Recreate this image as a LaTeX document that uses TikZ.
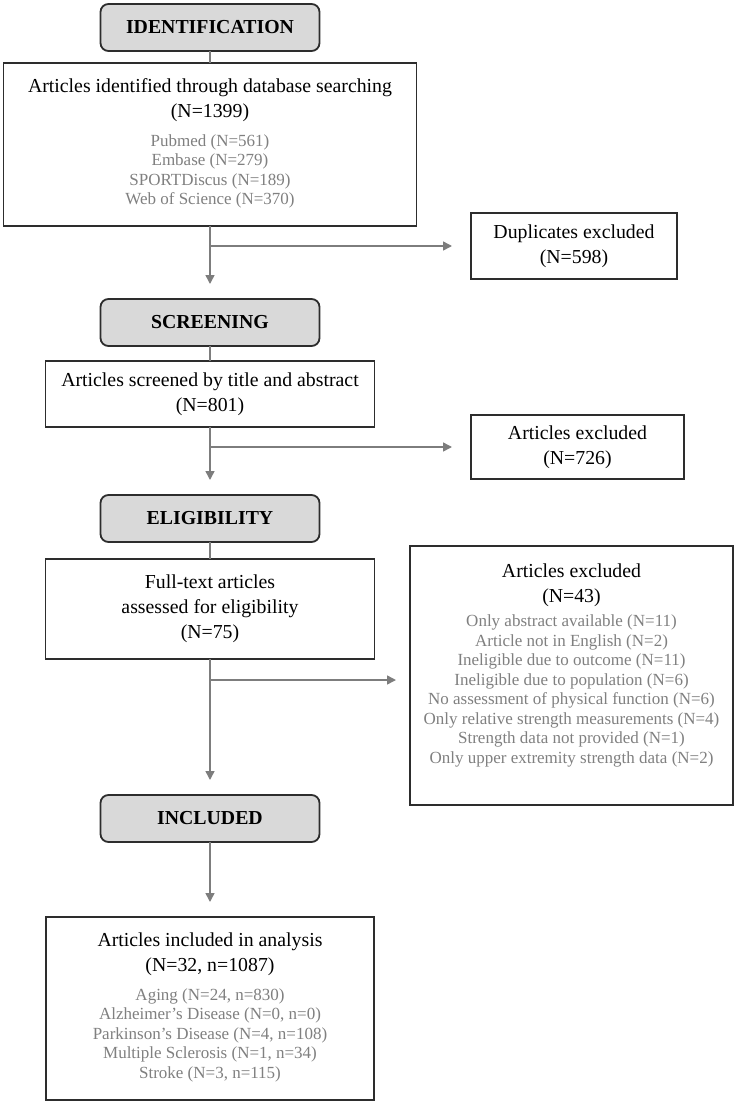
\documentclass[tikz,border=0pt]{standalone}
\usepackage{fontspec}
\setmainfont{Liberation Serif}
\usepackage{xcolor}
\usetikzlibrary{arrows.meta,positioning,calc}
\definecolor{prdark}{RGB}{45,45,45}
\definecolor{prgray}{RGB}{128,128,128}
\definecolor{prline}{RGB}{125,125,125}
\definecolor{prfill}{RGB}{217,217,217}
\newcommand{\sublist}[2][0bp]{{\color{prgray}\fontsize{8.5bp}{9.75bp}\selectfont\begin{tabular}[t]{@{}c@{}}#2\\[#1]\end{tabular}}}

\begin{document}
\begin{tikzpicture}[
			node distance=6bp,
			stage/.style={rectangle, draw=prdark, line width=0.9bp, outer sep=0pt, rounded corners=4bp, fill=prfill, minimum width=109.5bp, minimum height=23.5bp, font=\fontsize{9.9bp}{12.5bp}\selectfont\bfseries},
			record/.style={rectangle, draw=prdark, line width=0.9bp, outer sep=0pt, fill=white, align=center, inner sep=2bp, font=\fontsize{9.9bp}{12.5bp}\selectfont},
			link/.style={draw=prline, line width=0.75bp},
			arrow/.style={link, -{Triangle[length=4.5bp, width=4.5bp]}, shorten >=7.5bp}
		]
			\path[use as bounding box] (0,0) rectangle (369.5bp,-551.5bp);
			\node[stage] (ident) at (105bp,-13.75bp) {IDENTIFICATION};
			\node[record, minimum width=206.5bp, minimum height=81.5bp, below=6bp of ident] (found) {Articles identified through database searching\\(N=1399)\\[2bp]\sublist{Pubmed (N=561)\\Embase (N=279)\\SPORTDiscus (N=189)\\Web of Science (N=370)}};
			\node[stage, below=36.5bp of found] (scr) {SCREENING};
			\node[record, minimum width=164.5bp, minimum height=33bp, below=7.5bp of scr] (scrbox) {Articles screened by title and abstract\\(N=801)};
			\node[stage, below=34bp of scrbox] (elig) {ELIGIBILITY};
			\node[record, minimum width=164.5bp, minimum height=50bp, below=8.5bp of elig] (eligbox) {Full-text articles\\assessed for eligibility\\(N=75)};
			\node[stage, below=68bp of eligbox] (incl) {INCLUDED};
			\node[record, minimum width=164bp, minimum height=91.5bp, below=37.5bp of incl] (final) {Articles included in analysis\\(N=32, n=1087)\\[2bp]\sublist{Aging (N=24, n=830)\\Alzheimer's Disease (N=0, n=0)\\Parkinson's Disease (N=4, n=108)\\Multiple Sclerosis (N=1, n=34)\\Stroke (N=3, n=115)}};
			
			\coordinate[below=10bp of found.south] (b1);
			\coordinate[below=10bp of scrbox.south] (b2);
			\coordinate[below=10.5bp of eligbox.south] (b3);
			
			\node[record, minimum width=103bp, minimum height=33bp, anchor=west] (dup) at ([xshift=130.5bp]b1) {Duplicates excluded\\(N=598)};
			\node[record, minimum width=106.5bp, minimum height=32bp, anchor=west] (exc1) at ([xshift=130.5bp]b2) {Articles excluded\\(N=726)};
			\node[record, minimum width=161.5bp, minimum height=129.5bp, anchor=north west] (exc2) at ([xshift=17.75bp, yshift=6.5bp]eligbox.north east) {Articles excluded\\(N=43)\\[-0.5bp]\sublist[9bp]{Only abstract available (N=11)\\Article not in English (N=2)\\Ineligible due to outcome (N=11)\\Ineligible due to population (N=6)\\No assessment of physical function (N=6)\\Only relative strength measurements (N=4)\\Strength data not provided (N=1)\\Only upper extremity strength data (N=2)}};
			
			\draw[link] (ident) -- (found);
			\draw[arrow] (found) -- (scr);
			\draw[arrow, shorten >=9.5bp] (b1) -- (dup);
			\draw[link] (scr) -- (scrbox);
			\draw[arrow] (scrbox) -- (elig);
			\draw[arrow, shorten >=9.5bp] (b2) -- (exc1);
			\draw[link] (elig) -- (eligbox);
			\draw[arrow] (eligbox) -- (incl);
			\draw[arrow, shorten >=7bp] (b3) -- (b3 -| exc2.west);
			\draw[arrow] (incl) -- (final);
		\end{tikzpicture}
\end{document}
